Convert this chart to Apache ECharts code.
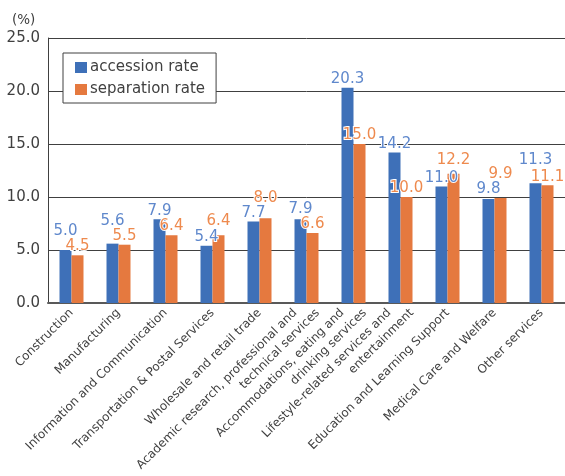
<!DOCTYPE html>
<html>
<head>
<meta charset="utf-8">
<script src="https://cdn.jsdelivr.net/npm/echarts@6/dist/echarts.min.js"></script>
<style>
  html, body { margin: 0; padding: 0; background: #fff; }
  #chart { width: 565px; height: 476px; }
</style>
</head>
<body>
<div id="chart"></div>
<script>
// industries (x axis)
var categories = [
  'Construction',
  'Manufacturing',
  'Information and Communication',
  'Transportation & Postal Services',
  'Wholesale and retail trade',
  'Academic research, professional and\ntechnical services',
  'Accommodations, eating and\ndrinking services',
  'Lifestyle-related services and\nentertainment',
  'Education and Learning Support',
  'Medical Care and Welfare',
  'Other services'
]
var accessionRate = [5.0, 5.6, 7.9, 5.4, 7.7, 7.9, 20.3, 14.2, 11.0, 9.8, 11.3]
var separationRate = [4.5, 5.5, 6.4, 6.4, 8.0, 6.6, 15.0, 10.0, 12.2, 9.9, 11.1]
var yTicks = [0, 5, 10, 15, 20, 25]

// labels in the original were nudged up by hand in a few places (px)
var accessionLift = [10, 14, 0, 0, 0, 2, 0, 0, 0, 2, 15]
var separationLift = [1, 0, 1, 6, 12, 0, 0, 0, 5, 15, 0]

var font = 'DejaVu Sans'
var textGray = '#404040'
var chart = echarts.init(document.getElementById('chart'))

function barData(values, lifts) {
  return values.map(function (v, i) {
    return { value: v, label: { offset: [0, -lifts[i]] } }
  })
}

function valueLabel(color) {
  return {
    show: true,
    position: 'top',
    distance: 1,
    color: color,
    fontFamily: font,
    fontSize: 15,
    textBorderColor: '#fff',
    textBorderWidth: 2,
    formatter: function (p) { return p.value.toFixed(1) }
  }
}

var lblSize = 12
var lblLine = 16

chart.setOption({
  animation: false,
  textStyle: { fontFamily: font },
  grid: { left: 48, right: 0, top: 38, bottom: 173, outerBoundsMode: 'none', containLabel: false },
  graphic: [{
    type: 'text',
    left: 12,
    top: 13,
    style: { text: '(%)', fontFamily: font, fontSize: 13.5, fill: textGray }
  }],
  legend: {
    orient: 'vertical',
    left: 63,
    top: 53,
    padding: [7, 11, 6, 12],
    itemGap: 7,
    itemWidth: 12,
    itemHeight: 11,
    icon: 'rect',
    borderColor: '#404040',
    borderWidth: 1,
    backgroundColor: '#fff',
    textStyle: { fontSize: 15, color: textGray, fontFamily: font, padding: [0, 0, 0, -2] },
    data: ['accession rate', 'separation rate']
  },
  xAxis: {
    type: 'category',
    data: categories,
    axisLine: { lineStyle: { color: '#595959', width: 2 } },
    axisTick: { show: false },
    axisLabel: {
      interval: 0,
      rotate: 45,
      fontSize: lblSize,
      color: textGray,
      fontFamily: font,
      lineHeight: lblLine,
      margin: 8,
      formatter: function (v) {
        var parts = v.split('\n')
        if (parts.length < 2) return v
        return '{l1|' + parts[0] + '}\n{l2|' + parts[1] + '}'
      },
      rich: {
        l1: { fontSize: lblSize, fontFamily: font, color: textGray, lineHeight: lblLine, align: 'right', padding: [0, 8, 0, 0] },
        l2: { fontSize: lblSize, fontFamily: font, color: textGray, lineHeight: lblLine, align: 'right', padding: [0, -8, 0, 0] }
      }
    }
  },
  yAxis: {
    type: 'value',
    min: yTicks[0],
    max: yTicks[yTicks.length - 1],
    interval: 5,
    axisLine: { show: true, lineStyle: { color: '#404040', width: 1 } },
    axisTick: { show: false },
    splitLine: { lineStyle: { color: '#404040', width: 1 } },
    axisLabel: {
      fontSize: 15,
      color: textGray,
      margin: 8,
      formatter: function (v) { return v.toFixed(1) }
    }
  },
  series: [
    {
      name: 'accession rate',
      type: 'bar',
      data: barData(accessionRate, accessionLift),
      barWidth: 12,
      barGap: '0%',
      itemStyle: { color: '#3E70B8' },
      label: valueLabel('#5F88CC')
    },
    {
      name: 'separation rate',
      type: 'bar',
      data: barData(separationRate, separationLift),
      barWidth: 12,
      itemStyle: { color: '#E5793F' },
      label: valueLabel('#EE8A4E')
    }
  ]
})
</script>
</body>
</html>
